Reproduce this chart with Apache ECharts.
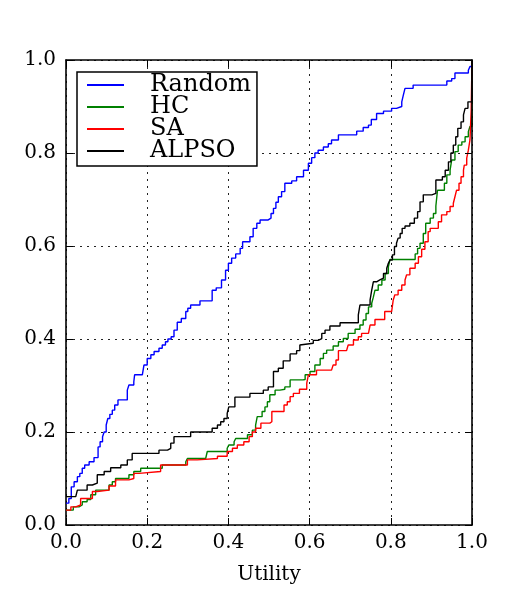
<!DOCTYPE html>
<html>
<head>
<meta charset="utf-8">
<script src="https://cdn.jsdelivr.net/npm/echarts@6/dist/echarts.min.js"></script>
<style>
    body { margin: 0; background: #fff; }
    #chart { width: 525px; height: 600px; }
</style>
</head>
<body>
<div id="chart"></div>
<script>
// [utility, fraction] step points
var randomData = [[0,0.047],[0.007,0.057],[0.013,0.082],[0.02,0.093],[0.028,0.104],[0.034,0.111],[0.04,0.122],[0.046,0.129],[0.057,0.136],[0.069,0.145],[0.079,0.168],[0.084,0.179],[0.09,0.19],[0.094,0.2],[0.099,0.215],[0.103,0.229],[0.108,0.238],[0.114,0.247],[0.12,0.258],[0.128,0.269],[0.151,0.29],[0.155,0.301],[0.167,0.308],[0.169,0.323],[0.188,0.326],[0.192,0.344],[0.2,0.358],[0.209,0.366],[0.217,0.373],[0.229,0.38],[0.237,0.387],[0.245,0.394],[0.251,0.4],[0.259,0.405],[0.266,0.419],[0.274,0.436],[0.284,0.444],[0.295,0.459],[0.3,0.466],[0.307,0.473],[0.33,0.482],[0.36,0.505],[0.37,0.51],[0.383,0.527],[0.393,0.548],[0.4,0.563],[0.408,0.574],[0.418,0.583],[0.429,0.595],[0.435,0.609],[0.453,0.62],[0.461,0.638],[0.47,0.649],[0.478,0.656],[0.498,0.66],[0.505,0.67],[0.511,0.681],[0.517,0.694],[0.523,0.706],[0.531,0.717],[0.539,0.735],[0.556,0.74],[0.568,0.749],[0.585,0.763],[0.597,0.778],[0.605,0.79],[0.613,0.8],[0.621,0.806],[0.634,0.813],[0.646,0.82],[0.654,0.828],[0.671,0.839],[0.716,0.847],[0.732,0.855],[0.745,0.86],[0.752,0.872],[0.765,0.885],[0.782,0.89],[0.802,0.896],[0.814,0.9],[0.827,0.91],[0.831,0.925],[0.835,0.939],[0.855,0.946],[0.938,0.955],[0.95,0.96],[0.958,0.972],[0.991,0.978],[0.995,0.986],[1,1]];

var hcData = [[0,0.032],[0.018,0.039],[0.032,0.043],[0.04,0.05],[0.052,0.055],[0.061,0.065],[0.073,0.075],[0.106,0.086],[0.114,0.093],[0.122,0.1],[0.155,0.108],[0.167,0.115],[0.184,0.122],[0.237,0.129],[0.295,0.136],[0.299,0.143],[0.344,0.147],[0.348,0.158],[0.397,0.165],[0.401,0.172],[0.414,0.179],[0.418,0.186],[0.447,0.194],[0.459,0.204],[0.467,0.215],[0.471,0.233],[0.483,0.244],[0.49,0.254],[0.496,0.265],[0.502,0.28],[0.515,0.29],[0.527,0.292],[0.539,0.297],[0.552,0.312],[0.584,0.313],[0.589,0.323],[0.601,0.33],[0.613,0.344],[0.626,0.358],[0.634,0.369],[0.642,0.376],[0.658,0.385],[0.671,0.394],[0.683,0.401],[0.695,0.412],[0.712,0.421],[0.724,0.43],[0.732,0.441],[0.739,0.455],[0.745,0.469],[0.753,0.477],[0.757,0.49],[0.761,0.505],[0.769,0.516],[0.778,0.527],[0.786,0.541],[0.794,0.555],[0.798,0.571],[0.86,0.583],[0.866,0.595],[0.872,0.606],[0.88,0.627],[0.886,0.649],[0.897,0.66],[0.905,0.67],[0.911,0.686],[0.915,0.72],[0.932,0.735],[0.938,0.753],[0.946,0.763],[0.95,0.785],[0.958,0.803],[0.966,0.817],[0.975,0.824],[0.983,0.835],[0.991,0.846],[0.995,0.857],[1,1]];

var saData = [[0,0.032],[0.012,0.039],[0.024,0.043],[0.036,0.057],[0.065,0.072],[0.077,0.075],[0.106,0.084],[0.122,0.097],[0.155,0.1],[0.167,0.111],[0.18,0.115],[0.233,0.129],[0.299,0.14],[0.323,0.143],[0.373,0.148],[0.397,0.158],[0.41,0.165],[0.422,0.172],[0.438,0.179],[0.451,0.19],[0.459,0.2],[0.467,0.208],[0.48,0.219],[0.502,0.222],[0.507,0.244],[0.537,0.258],[0.545,0.265],[0.552,0.276],[0.56,0.283],[0.575,0.292],[0.593,0.305],[0.597,0.323],[0.617,0.333],[0.654,0.337],[0.658,0.344],[0.665,0.355],[0.671,0.375],[0.691,0.376],[0.695,0.387],[0.708,0.398],[0.72,0.405],[0.728,0.412],[0.745,0.416],[0.749,0.43],[0.761,0.442],[0.785,0.459],[0.802,0.462],[0.806,0.484],[0.81,0.495],[0.818,0.505],[0.827,0.516],[0.835,0.527],[0.839,0.538],[0.847,0.552],[0.86,0.563],[0.868,0.577],[0.876,0.593],[0.884,0.609],[0.892,0.631],[0.897,0.638],[0.917,0.652],[0.925,0.667],[0.938,0.674],[0.946,0.685],[0.954,0.692],[0.958,0.706],[0.962,0.72],[0.968,0.735],[0.973,0.749],[0.979,0.763],[0.981,0.774],[0.987,0.789],[0.991,0.806],[0.995,0.828],[0.998,0.892],[1,1]];

var alpsoData = [[0,0.061],[0.024,0.065],[0.028,0.075],[0.052,0.086],[0.065,0.09],[0.077,0.108],[0.094,0.115],[0.11,0.123],[0.135,0.129],[0.151,0.14],[0.163,0.154],[0.229,0.161],[0.25,0.165],[0.258,0.176],[0.266,0.19],[0.307,0.2],[0.36,0.208],[0.373,0.215],[0.381,0.222],[0.389,0.229],[0.397,0.24],[0.401,0.254],[0.416,0.275],[0.453,0.283],[0.486,0.29],[0.498,0.297],[0.511,0.33],[0.523,0.337],[0.535,0.353],[0.552,0.368],[0.568,0.375],[0.576,0.387],[0.58,0.391],[0.609,0.397],[0.621,0.401],[0.63,0.412],[0.638,0.419],[0.65,0.428],[0.675,0.435],[0.72,0.452],[0.724,0.473],[0.749,0.484],[0.753,0.505],[0.757,0.523],[0.765,0.527],[0.773,0.531],[0.782,0.541],[0.79,0.552],[0.794,0.563],[0.798,0.57],[0.804,0.581],[0.809,0.599],[0.814,0.606],[0.818,0.617],[0.823,0.627],[0.828,0.638],[0.835,0.643],[0.847,0.649],[0.858,0.66],[0.866,0.674],[0.872,0.695],[0.88,0.71],[0.901,0.713],[0.911,0.742],[0.927,0.749],[0.934,0.763],[0.942,0.781],[0.948,0.8],[0.954,0.817],[0.96,0.835],[0.965,0.853],[0.973,0.867],[0.979,0.882],[0.983,0.896],[0.99,0.91],[1,1]];

var seriesNames = ['Random', 'HC', 'SA', 'ALPSO'];
var seriesColors = ['#0000ff', '#008000', '#ff0000', '#000000'];
var seriesData = [randomData, hcData, saData, alpsoData];

var font = 'DejaVu Serif';

function tickLabel(margin) {
    return {
        fontFamily: font, fontSize: 20, color: '#000', margin: margin,
        formatter: function (v) { return v.toFixed(1); }
    };
}

function mainAxis(extra) {
    var axis = {
        type: 'value',
        min: 0,
        max: 1,
        interval: 0.2,
        axisLine: { show: true, lineStyle: { color: '#000', width: 1.6 } },
        axisTick: { show: true, inside: true, length: 7, lineStyle: { color: '#000', width: 1 } },
        splitLine: { show: true, lineStyle: { color: '#222', width: 1, type: [2, 5] } }
    };
    for (var k in extra) axis[k] = extra[k];
    return axis;
}

// top / right spines with inward ticks, like the matplotlib box
function boxAxis(pos) {
    return {
        type: 'value', position: pos, min: 0, max: 1, interval: 0.2, z: 10,
        axisLine: { show: true, onZero: false, lineStyle: { color: '#000', width: 1.6 } },
        axisTick: { show: true, inside: true, length: 7, lineStyle: { color: '#000', width: 1 } },
        axisLabel: { show: false },
        splitLine: { show: false }
    };
}

var series = [];
for (var i = 0; i < seriesNames.length; i++) {
    series.push({
        name: seriesNames[i],
        type: 'line',
        step: 'end',
        data: seriesData[i],
        symbol: 'none',
        color: seriesColors[i],
        lineStyle: { width: 1.4, color: seriesColors[i] }
    });
}

var chart = echarts.init(document.getElementById('chart'), null, { renderer: 'canvas' });
chart.setOption({
    animation: false,
    backgroundColor: '#fff',
    grid: { left: 66, right: 53, top: 60, bottom: 75, containLabel: false },
    xAxis: [
        mainAxis({ position: 'bottom', name: 'Utility', nameLocation: 'middle', nameGap: 40,
            nameTextStyle: { fontFamily: font, fontSize: 20, color: '#000' },
            axisLabel: tickLabel(8) }),
        boxAxis('top')
    ],
    yAxis: [
        mainAxis({ position: 'left', axisLabel: tickLabel(10) }),
        boxAxis('right')
    ],
    legend: {
        orient: 'vertical',
        left: 77,
        top: 72,
        data: seriesNames,
        icon: 'rect',
        itemWidth: 37,
        itemHeight: 2,
        itemGap: -2,
        padding: [1, 6, 3, 10],
        borderColor: '#000',
        borderWidth: 1.5,
        borderRadius: 0,
        backgroundColor: '#fff',
        textStyle: { fontFamily: font, fontSize: 24, color: '#000', lineHeight: 22, padding: [0, 0, 0, 21] }
    },
    series: series
});
</script>
</body>
</html>
